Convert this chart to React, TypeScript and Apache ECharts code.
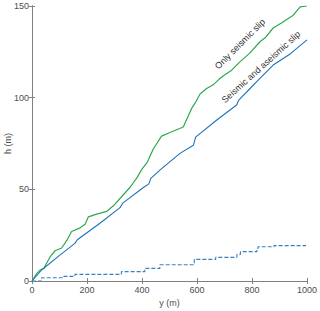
import React, { useEffect, useRef } from "react";
import * as echarts from "echarts";

const xTicks = [0, 200, 400, 600, 800, 1000];
const yTicks = [0, 50, 100, 150];

const seismicOnlyX = [0, 17, 30, 43, 65, 84, 108, 126, 144, 175, 193, 205, 235, 272, 296, 320, 356, 380, 400, 420, 441, 471, 502, 526, 550, 562, 580, 593, 611, 635, 659, 680, 696, 726, 756, 790, 829, 850, 877, 910, 950, 975, 1000];
const seismicOnlyH = [0, 4, 6, 7, 13, 16.5, 18, 22, 27, 29, 31, 35, 36.5, 38, 41, 45, 51, 56, 61, 65, 72, 79, 81, 82.5, 84, 88, 94, 97, 102, 105, 107, 110, 112, 115, 119.5, 124, 130.5, 133, 138, 141, 145, 149.5, 150];

const bothX = [0, 35, 100, 156, 165, 247, 320, 330, 405, 425, 432, 465, 538, 587, 595, 672, 744, 752, 793, 817, 877, 940, 1000];
const bothH = [0, 6, 14, 20.5, 22.5, 31.5, 40, 42.5, 51, 53, 56, 60.5, 69.6, 74, 78.5, 87.8, 96, 98.7, 105, 108.7, 117.8, 124, 131.5];

const aseismicX = [0, 35, 114, 156, 325, 410, 465, 590, 668, 745, 758, 818, 822, 880, 995, 1000];
const aseismicH = [0, 1.8, 2.5, 3.6, 5.1, 6.9, 8.9, 11.8, 12.9, 14.5, 16, 17.8, 18.7, 19.3, 20.2, 20.2];

const zip = (xs: number[], ys: number[]) => xs.map((x, i) => [x, ys[i]]);

const AXIS = "#808080";
const TEXT = "#4d4d4d";
const FONT = "Liberation Sans, Arial, sans-serif";

export default function App() {
  const ref = useRef<HTMLDivElement>(null);
  useEffect(() => {
    document.body.style.margin = "0";
    const chart = echarts.init(ref.current!, undefined, { renderer: "svg" });
    const xBase = {
      type: "value" as const,
      min: xTicks[0],
      max: xTicks[xTicks.length - 1],
      interval: 200,
      splitLine: { show: false },
      axisLine: { show: true, lineStyle: { color: AXIS, width: 1 } },
      axisTick: { show: true, inside: true, length: 3, lineStyle: { color: AXIS } },
    };
    const yBase = {
      type: "value" as const,
      min: yTicks[0],
      max: yTicks[yTicks.length - 1],
      interval: 50,
      splitLine: { show: false },
      axisLine: { show: true, lineStyle: { color: AXIS, width: 1 } },
      axisTick: { show: true, inside: true, length: 3, lineStyle: { color: AXIS } },
    };
    chart.setOption({
      animation: false,
      grid: { left: 32, right: 13, top: 6, bottom: 30, containLabel: false, outerBoundsMode: "none" },
      xAxis: [
        {
          ...xBase,
          position: "bottom",
          name: "y (m)",
          nameLocation: "middle",
          nameGap: 17,
          nameMoveOverlap: false,
          nameTextStyle: { color: TEXT, fontSize: 9, fontFamily: FONT },
          axisLabel: { color: TEXT, fontSize: 9, fontFamily: FONT, margin: 4, formatter: (v: number) => String(v) },
        },
        { ...xBase, position: "top", axisLabel: { show: false } },
      ],
      yAxis: [
        {
          ...yBase,
          position: "left",
          name: "h (m)",
          nameLocation: "middle",
          nameGap: 20,
          nameMoveOverlap: false,
          nameTextStyle: { color: TEXT, fontSize: 9, fontFamily: FONT },
          axisLabel: { color: TEXT, fontSize: 9, fontFamily: FONT, margin: 3, formatter: (v: number) => String(v) },
        },
        { ...yBase, position: "right", axisLabel: { show: false } },
      ],
      series: [
        {
          type: "line",
          data: zip(seismicOnlyX, seismicOnlyH),
          showSymbol: false,
          lineStyle: { color: "#2fa84f", width: 1.2 },
        },
        {
          type: "line",
          data: zip(bothX, bothH),
          showSymbol: false,
          lineStyle: { color: "#1f72b8", width: 1.1 },
        },
        {
          type: "line",
          data: zip(aseismicX, aseismicH),
          step: "end",
          showSymbol: false,
          lineStyle: { color: "#3a80c0", width: 1.1, type: [4, 2] },
        },
      ],
      graphic: [
        {
          type: "text",
          x: 240,
          y: 44,
          rotation: (45 * Math.PI) / 180,
          style: {
            text: "Only seismic slip",
            fill: "#333",
            fontSize: 9,
            fontFamily: FONT,
            textAlign: "center",
            textVerticalAlign: "middle",
          },
        },
        {
          type: "text",
          x: 261,
          y: 67,
          rotation: (42 * Math.PI) / 180,
          style: {
            text: "Seismic and aseismic slip",
            fill: "#333",
            fontSize: 9,
            fontFamily: FONT,
            textAlign: "center",
            textVerticalAlign: "middle",
          },
        },
      ],
    });
    return () => chart.dispose();
  }, []);
  return <div ref={ref} style={{ width: 320, height: 311 }} />;
}
